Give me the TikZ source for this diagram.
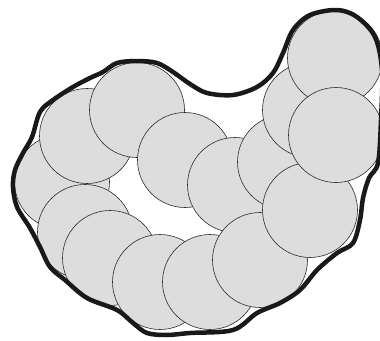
\documentclass[tikz,border=0pt]{standalone}
\usepackage{tikz}
\usetikzlibrary{positioning}
\usepackage{xcolor}
\definecolor{cBead}{RGB}{221,221,221}
\definecolor{cRim}{RGB}{45,45,45}
\definecolor{cHull}{RGB}{28,24,22}
\tikzset{
  bead/.style={circle, draw=cRim, fill=cBead, line width=0.6pt,
               minimum size=95pt, inner sep=0pt},
  hull/.style={draw=cHull, line width=4.5pt, line join=round}
}

\begin{document}
\begin{tikzpicture}[x=1pt, y=-1pt]
  \useasboundingbox (0,0) rectangle (380,340);

  % beads, back to front
  \foreach \cx/\cy [count=\i] in {62/182, 87/136, 137/110, 185/160, 235/185,
      85/232, 110/258, 160/282, 210/282, 260/260, 285/162, 310/110,
      335/58, 310/210, 336/135}
    \node[bead] (b\i) at (\cx,\cy) {};

  % enclosing membrane
  \draw[hull] plot[smooth cycle, tension=0.55] coordinates {
    (137,61) (157,63) (173,72) (190,84) (207,93) (233,95) (257,87)
    (273,73) (283,53) (293,30) (310,15) (337,10) (357,17) (375,37)
    (382,70) (381,120) (378,163) (369,178) (363,198) (360,220)
    (353,243) (337,253) (317,270) (300,290) (280,303) (257,313)
    (233,330) (190,333) (167,335) (147,333) (133,323) (117,310)
    (87,298) (65,280) (50,267) (40,247) (30,228) (17,207) (13,187)
    (15,170) (23,153) (32,137) (40,112) (53,100) (73,87) (90,78)
    (103,72) (117,63)};
\end{tikzpicture}
\end{document}
